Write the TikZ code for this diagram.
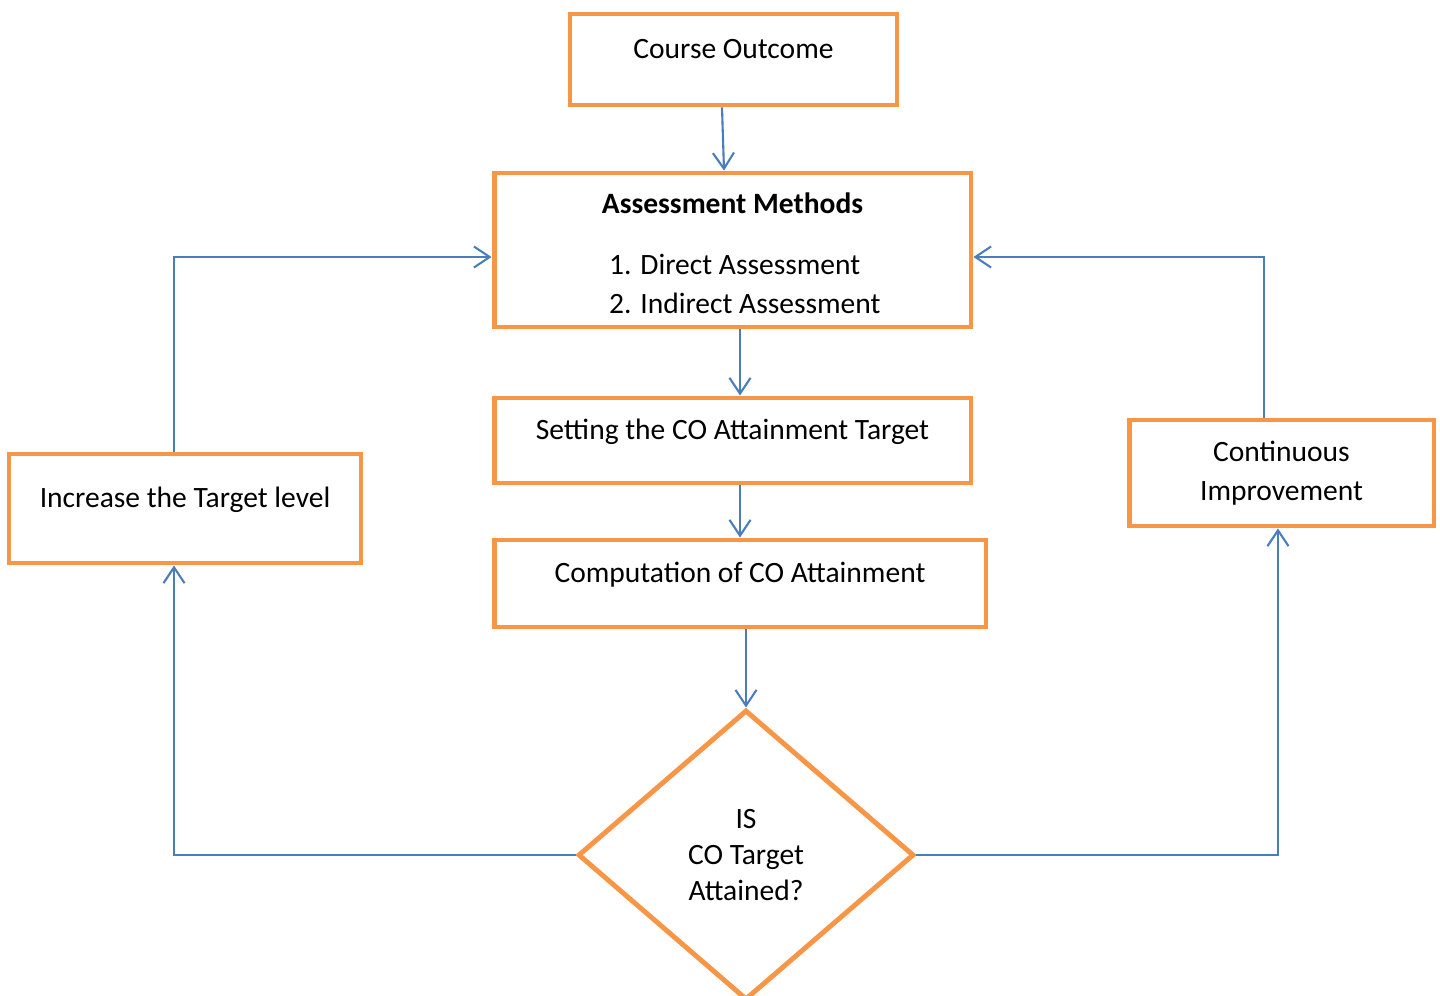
\documentclass[tikz,border=0pt]{standalone}
\usepackage{fontspec}
\setmainfont{Carlito}
\usepackage{xcolor}
\usepackage{tikz}
\usetikzlibrary{arrows.meta,shapes.geometric}

\definecolor{boxorange}{HTML}{F79646}
\definecolor{flowblue}{HTML}{4A7EBB}

\begin{document}
\begin{tikzpicture}[x=0.02cm, y=-0.02cm,
    every node/.style={font=\fontsize{16.8}{22}\selectfont},
    box/.style={draw=boxorange, line width=2.8pt, rectangle, align=center},
    raised/.style={text height=12pt, text depth=#1},
    flow/.style={draw=flowblue, line width=1.2pt, -{Straight Barb[length=9pt, width=12pt]}}]
    \useasboundingbox (0,0) rectangle (1440,996);
    % Modules
    \node[box, raised=13pt, minimum width=6.54cm, minimum height=1.82cm] (co) at (733.5,59.5) {Course Outcome};
    \node[box, inner ysep=1pt, minimum width=9.54cm, minimum height=3.08cm] (am) at (732.5,250)
        {\rule{0pt}{22pt}{\bfseries Assessment Methods}\\[18pt]\hspace*{14pt}\begin{tabular}{@{}l@{}}1. Direct Assessment\\2. Indirect Assessment\end{tabular}};
    \node[box, raised=13pt, minimum width=9.54cm, minimum height=1.70cm] (st) at (732.5,440.5) {Setting the CO Attainment Target};
    \node[box, raised=13pt, minimum width=9.84cm, minimum height=1.74cm] (comp) at (740,583.5) {Computation of CO Attainment};
    \node[box, diamond, minimum width=6.72cm, minimum height=5.80cm, inner sep=0pt,
        font=\fontsize{16.8}{20.4}\selectfont] (dec) at (746,855) {IS\\CO Target\\Attained?};
    \node[box, raised=13pt, minimum width=7.04cm, minimum height=2.18cm] (inc) at (185,508.5) {Increase the Target level};
    \node[box, minimum width=6.10cm, minimum height=2.12cm] (ci) at (1281.5,473) {Continuous\\Improvement};
    % Main flow
    \draw[flow] ([xshift=-0.23cm]co.south) -- ([xshift=-0.17cm]am.north);
    \draw[flow] (am.south -| comp) -- (st.north -| comp);
    \draw[flow] (st.south -| comp) -- (comp.north);
    \draw[flow] (comp.south -| dec) -- (dec.north);
    % Not attained: raise target
    \draw[flow] (dec.west) -| ([xshift=-0.22cm]inc.south);
    \draw[flow] ([xshift=-0.22cm]inc.north) |- ([yshift=-0.14cm]am.west);
    % Attained: improve
    \draw[flow] (dec.east) -| ([xshift=-0.07cm]ci.south);
    \draw[flow] ([xshift=-0.35cm]ci.north) |- ([yshift=-0.14cm]am.east);
\end{tikzpicture}
\end{document}
